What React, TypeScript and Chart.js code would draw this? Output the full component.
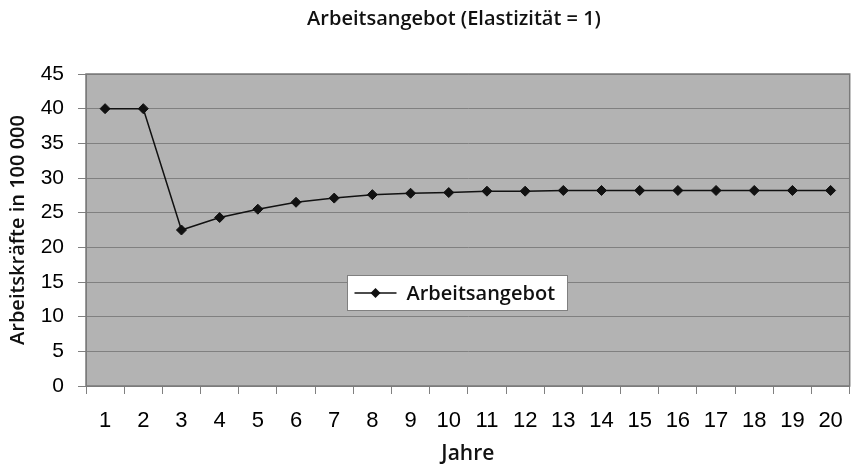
import React, { useEffect, useRef } from "react";
import { Chart, registerables } from "chart.js";

Chart.register(...registerables);

const chartTitle = "Arbeitsangebot (Elastizität = 1)";
const yAxisTitle = "Arbeitskräfte in 100 000";
const xAxisTitle = "Jahre";
const seriesLabel = "Arbeitsangebot";
const years = ["1", "2", "3", "4", "5", "6", "7", "8", "9", "10", "11", "12", "13", "14", "15", "16", "17", "18", "19", "20"];
const supply = [40, 40, 22.5, 24.3, 25.5, 26.5, 27.1, 27.6, 27.8, 27.9, 28.1, 28.1, 28.2, 28.2, 28.2, 28.2, 28.2, 28.2, 28.2, 28.2];
const yTickValues = [0, 5, 10, 15, 20, 25, 30, 35, 40, 45];

const plotBgPlugin = {
  id: "plotBg",
  beforeDraw(chart: any) {
    const { ctx, chartArea: a } = chart;
    ctx.save();
    ctx.fillStyle = "#b3b3b3";
    ctx.fillRect(a.left, a.top, a.right - a.left, a.bottom - a.top);
    ctx.restore();
  },
  beforeDatasetsDraw(chart: any) {
    const { ctx, chartArea: a } = chart;
    ctx.save();
    ctx.strokeStyle = "#7a7a7a";
    ctx.lineWidth = 1.5;
    ctx.strokeRect(a.left, a.top, a.right - a.left, a.bottom - a.top);
    ctx.restore();
  },
};

const titlePlugin = {
  id: "customTitle",
  afterDraw(chart: any) {
    const { ctx } = chart;
    ctx.save();
    ctx.font = "600 20px 'Open Sans'";
    ctx.fillStyle = "#111111";
    ctx.textAlign = "center";
    ctx.textBaseline = "middle";
    ctx.fillText(chartTitle, 454, 19);
    ctx.restore();
  },
};

const innerLegendPlugin = {
  id: "innerLegend",
  afterDraw(chart: any) {
    const { ctx, chartArea: a } = chart;
    const ds = chart.data.datasets[0];
    const w = a.right - a.left;
    const h = a.bottom - a.top;
    const bx = Math.round(a.left + 0.342 * w) + 0.5;
    const by = Math.round(a.top + 0.645 * h) + 0.5;
    const bw = 220;
    const bh = 35;
    ctx.save();
    ctx.fillStyle = "#ffffff";
    ctx.fillRect(bx, by, bw, bh);
    ctx.strokeStyle = "#808080";
    ctx.lineWidth = 1;
    ctx.strokeRect(bx, by, bw, bh);
    const cy = by + bh / 2;
    ctx.strokeStyle = "#111111";
    ctx.lineWidth = 1.5;
    ctx.beginPath();
    ctx.moveTo(bx + 7, cy);
    ctx.lineTo(bx + 49, cy);
    ctx.stroke();
    ctx.fillStyle = "#111111";
    const mx = bx + 28;
    const r = 5;
    ctx.beginPath();
    ctx.moveTo(mx, cy - r);
    ctx.lineTo(mx + r, cy);
    ctx.lineTo(mx, cy + r);
    ctx.lineTo(mx - r, cy);
    ctx.closePath();
    ctx.fill();
    ctx.font = "600 20px 'Open Sans'";
    ctx.textBaseline = "middle";
    ctx.textAlign = "left";
    ctx.fillStyle = "#111111";
    ctx.fillText(ds.label, bx + 59, cy + 1);
    ctx.restore();
  },
};

export default function App() {
  const ref = useRef<HTMLCanvasElement | null>(null);

  useEffect(() => {
    if (!ref.current) return;
    const chart = new Chart(ref.current, {
      type: "line",
      data: {
        labels: years,
        datasets: [
          {
            label: seriesLabel,
            data: supply,
            borderColor: "#111111",
            backgroundColor: "#111111",
            borderWidth: 1.5,
            pointStyle: "rectRot",
            pointRadius: 5,
            pointBorderWidth: 1,
            pointBackgroundColor: "#111111",
            pointBorderColor: "#111111",
            tension: 0,
          },
        ],
      },
      options: {
        responsive: false,
        animation: false,
        layout: { padding: { left: 0, right: 4, top: 74, bottom: 0 } },
        plugins: {
          legend: { display: false },
          tooltip: { enabled: false },
          title: { display: false },
        },
        scales: {
          x: {
            type: "category",
            offset: true,
            grid: {
              offset: true,
              drawOnChartArea: false,
              drawTicks: true,
              tickLength: 8,
              color: "#808080",
            },
            border: { display: true, color: "#808080" },
            ticks: {
              color: "#000000",
              font: { family: "'Liberation Sans', Arial", size: 22 },
              padding: 14,
              maxRotation: 0,
              autoSkip: false,
            },
            title: {
              display: true,
              text: xAxisTitle,
              color: "#111111",
              font: { family: "'Open Sans'", size: 21, weight: "600" },
              padding: { top: 0, bottom: 1 },
            },
            afterFit(scale: any) {
              scale.height = 82;
            },
          },
          y: {
            min: 0,
            max: 45,
            afterBuildTicks(scale: any) {
              scale.ticks = yTickValues.map((v) => ({ value: v }));
            },
            grid: {
              color: "#808080",
              drawTicks: true,
              tickLength: 8,
              lineWidth: 1,
            },
            border: { display: true, color: "#808080" },
            ticks: {
              color: "#000000",
              font: { family: "'Liberation Sans', Arial", size: 21 },
              padding: 14,
            },
            title: {
              display: true,
              text: yAxisTitle,
              color: "#111111",
              font: { family: "'Open Sans'", size: 20, weight: "600" },
              padding: { top: 6, bottom: 0 },
            },
            afterFit(scale: any) {
              scale.width = 86;
            },
          },
        },
      },
      plugins: [plotBgPlugin, titlePlugin, innerLegendPlugin],
    });
    return () => chart.destroy();
  }, []);

  return (
    <div style={{ position: "absolute", left: 0, top: 0, width: 857, height: 468, background: "#ffffff" }}>
      <canvas ref={ref} width={857} height={468} />
    </div>
  );
}
